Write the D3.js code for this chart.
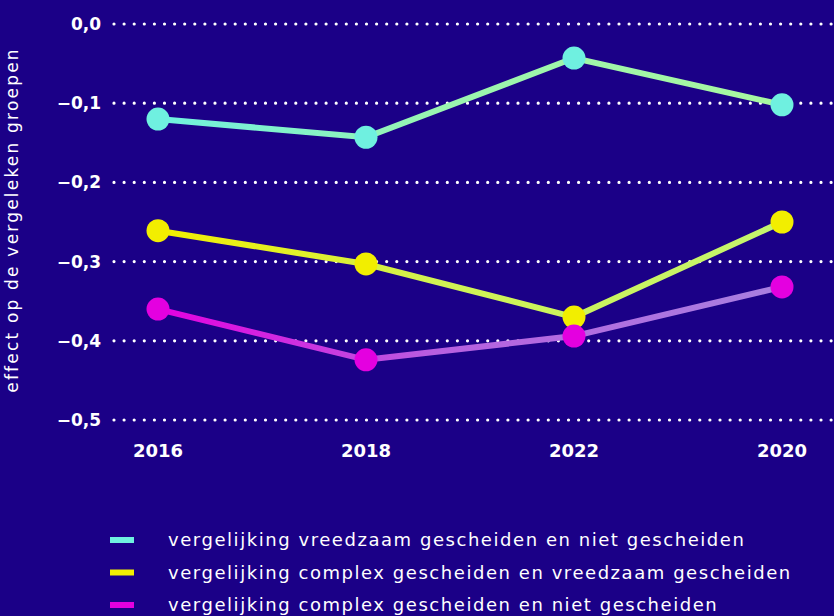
<!DOCTYPE html>
<html>
<head>
<meta charset="utf-8">
<script src="https://d3js.org/d3.v7.min.js"></script>
<style>
  body { margin: 0; background: #1b0087; }
  svg { display: block; }
</style>
</head>
<body>
<script>
// categories on the x axis (order as printed)
var years = ["2016", "2018", "2022", "2020"];

// series values
var vreedzaamNiet = [-0.120, -0.143, -0.043, -0.102];
var complexVreedzaam = [-0.261, -0.303, -0.370, -0.250];
var complexNiet = [-0.360, -0.424, -0.394, -0.332];

var yTicks = [0, -0.1, -0.2, -0.3, -0.4, -0.5];

var seriesNames = [
  "vergelijking vreedzaam gescheiden en niet gescheiden",
  "vergelijking complex gescheiden en vreedzaam gescheiden",
  "vergelijking complex gescheiden en niet gescheiden"
];

var series = [
  { name: seriesNames[0], values: vreedzaamNiet, dot: "#6ff0e0", from: "#6ff0e0", to: "#a8f7a0" },
  { name: seriesNames[1], values: complexVreedzaam, dot: "#f2ee00", from: "#f2ee00", to: "#c4f56e" },
  { name: seriesNames[2], values: complexNiet, dot: "#e400e0", from: "#e400e0", to: "#a880e0" }
];

var width = 834, height = 616;
var font = "'DejaVu Sans', sans-serif";

var svg = d3.select("body").append("svg")
  .attr("width", width)
  .attr("height", height);

var x = d3.scalePoint()
  .domain(years)
  .range([158, 782]);

var y = d3.scaleLinear()
  .domain([0, -0.5])
  .range([24, 420]);

var fmt = function(d) {
  return d3.format(".1f")(d).replace(".", ",").replace("-", "\u2013");
};

// dotted gridlines
var grid = svg.append("g");
yTicks.forEach(function(t) {
  grid.append("line")
    .attr("x1", 114).attr("x2", width)
    .attr("y1", y(t)).attr("y2", y(t))
    .attr("stroke", "#fff")
    .attr("stroke-width", 3.2)
    .attr("stroke-linecap", "round")
    .attr("stroke-dasharray", "0 10.1");
});

// y tick labels
svg.append("g").selectAll("text")
  .data(yTicks)
  .enter().append("text")
  .attr("x", 101)
  .attr("y", function(d) { return y(d); })
  .attr("dy", "0.35em")
  .attr("text-anchor", "end")
  .attr("fill", "#fff")
  .style("font", "bold 17px " + font)
  .text(fmt);

// y axis title
svg.append("text")
  .attr("transform", "translate(18,220) rotate(-90)")
  .attr("text-anchor", "middle")
  .attr("fill", "#fff")
  .style("font", "17px " + font)
  .style("letter-spacing", "2.2px")
  .text("effect op de vergeleken groepen");

// x labels
svg.append("g").selectAll("text")
  .data(years)
  .enter().append("text")
  .attr("x", function(d) { return x(d); })
  .attr("y", 451)
  .attr("dy", "0.35em")
  .attr("text-anchor", "middle")
  .attr("fill", "#fff")
  .style("font", "bold 18px " + font)
  .text(function(d) { return d; });

// gradients for the lines
var defs = svg.append("defs");
series.forEach(function(s, i) {
  var g = defs.append("linearGradient")
    .attr("id", "grad" + i)
    .attr("gradientUnits", "userSpaceOnUse")
    .attr("x1", x(years[0])).attr("x2", x(years[years.length - 1]))
    .attr("y1", 0).attr("y2", 0);
  g.append("stop").attr("offset", "0%").attr("stop-color", s.from);
  g.append("stop").attr("offset", "45%").attr("stop-color", d3.interpolateRgb(s.from, s.to)(0.75));
  g.append("stop").attr("offset", "100%").attr("stop-color", s.to);
});

var line = d3.line()
  .x(function(d, i) { return x(years[i]); })
  .y(function(d) { return y(d); });

series.forEach(function(s, i) {
  svg.append("path")
    .datum(s.values)
    .attr("d", line)
    .attr("fill", "none")
    .attr("stroke", "url(#grad" + i + ")")
    .attr("stroke-width", 6);
});

series.forEach(function(s) {
  svg.append("g").selectAll("circle")
    .data(s.values)
    .enter().append("circle")
    .attr("cx", function(d, i) { return x(years[i]); })
    .attr("cy", function(d) { return y(d); })
    .attr("r", 11.5)
    .attr("fill", s.dot);
});

// legend
var legend = svg.append("g").selectAll("g")
  .data(series)
  .enter().append("g")
  .attr("transform", function(d, i) { return "translate(110," + (540 + i * 32.5) + ")"; });

legend.append("rect")
  .attr("x", 0).attr("y", -3)
  .attr("width", 24).attr("height", 6)
  .attr("fill", function(d) { return d.dot; });

legend.append("text")
  .attr("x", 58)
  .attr("dy", "0.35em")
  .attr("fill", "#fff")
  .style("font", "18px " + font)
  .style("letter-spacing", "1.55px")
  .text(function(d) { return d.name; });
</script>
</body>
</html>
